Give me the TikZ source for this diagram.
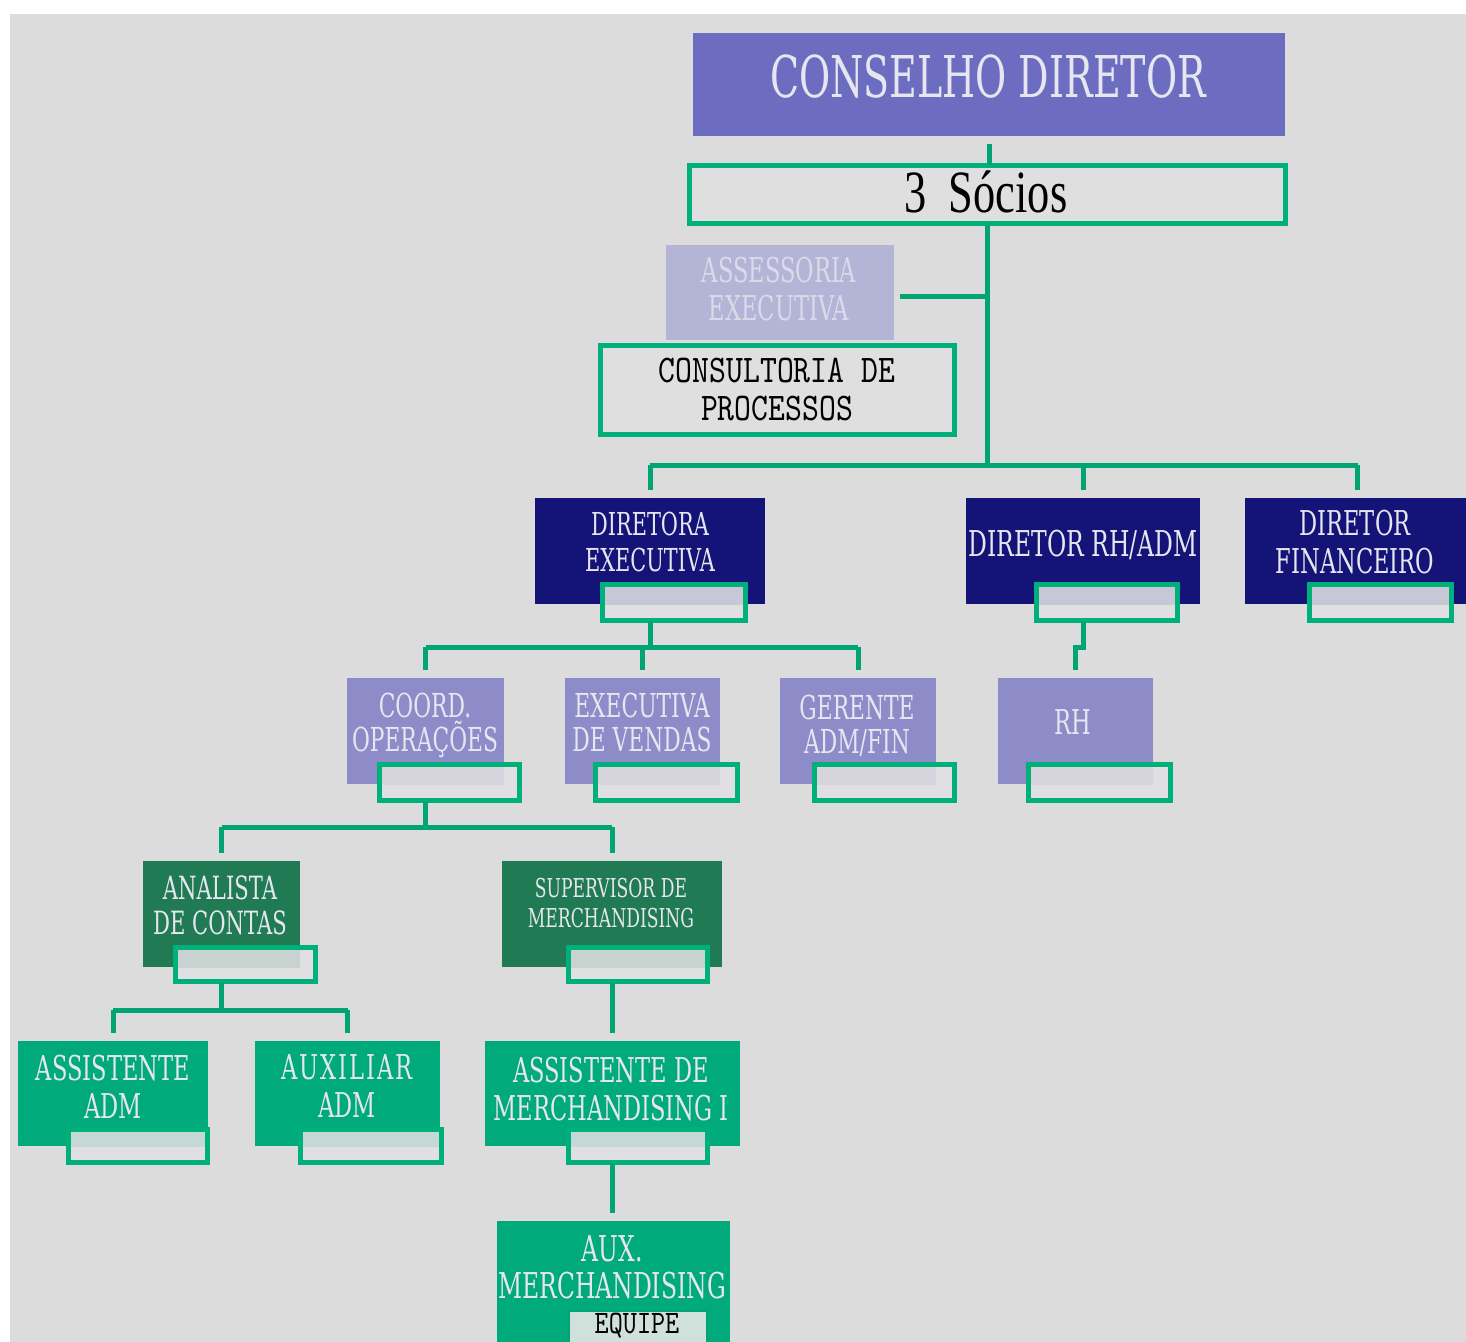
\documentclass[tikz,border=0pt]{standalone}
\usepackage{fontspec}
\usetikzlibrary{fit,calc}
\newfontfamily\lbl[FakeStretch=0.66]{DejaVu Serif}
\newfontfamily\socfont[FakeStretch=0.74]{Liberation Serif}
\newfontfamily\monofont{lmmono10-regular}[Extension=.otf, FakeStretch=0.82]
\definecolor{bg}{HTML}{DCDCDC}
\definecolor{lineg}{HTML}{00A573}
\definecolor{subline}{HTML}{00B07A}
\definecolor{subfill}{HTML}{E0E0E2}
\definecolor{cons}{HTML}{6C6CC0}
\definecolor{assess}{HTML}{B4B4D6}
\definecolor{navy}{HTML}{141478}
\definecolor{purp}{HTML}{8E8CC8}
\definecolor{dgreen}{HTML}{207A54}
\definecolor{lgreen}{HTML}{00AA7A}
\definecolor{lighttxt}{HTML}{E6E6F0}
\definecolor{assesstxt}{HTML}{DADAEA}
\definecolor{equfill}{HTML}{D0E0DA}
\tikzset{
  box/.style={inner sep=0pt, outer sep=0pt},
  conn/.style={draw=lineg, line width=2.5pt},
  frame/.style={draw=subline, line width=2.5pt},
  lab/.style={inner sep=0pt, outer sep=0pt, anchor=north, align=center, text=lighttxt},
}
\newcommand\mybox[6]{\node[box, fill=#6, fit={(#2,#3) (#4,#5)}] (#1) {};}
\newcommand\myframe[6]{\node[box, fill=#6, frame, fit={({#2+2.5},{#3+2.5}) ({#4-2.5},{#5-2.5})}] (#1) {};}
\newcommand\mysub[7]{%
  \node[box, fill=subfill, fit={({#3+2.5},{#4+2.5}) ({#5-2.5},{#6-2.5})}] (#1) {};
  \begin{scope}
    \clip (#2.south west) rectangle (#2.north east);
    \fill[#7, opacity=.12] (#1.south west) rectangle (#1.north east);
  \end{scope}
  \draw[frame] (#1.south west) rectangle (#1.north east);}
\newcommand\ks{\kern1pt}
\begin{document}
\begin{tikzpicture}[x=0.5pt, y=-0.5pt]
\useasboundingbox (0,0) rectangle (1466,1342);
\clip (0,0) rectangle (1466,1342);
\fill[white] (0,0) rectangle (1466,1342);
\fill[bg] (10,14) rectangle (1466,1342);

% top level
\mybox{conselho}{693}{33}{1285}{136}{cons}
\node[lab, font=\lbl\fontsize{28.8}{34}\selectfont] (tcons) at (988,55) {CONSELHO DIRETOR};
\myframe{socios}{687}{163}{1288}{226}{bg!90!white}
\node[inner sep=0pt, anchor=base, font=\socfont\fontsize{30}{34}\selectfont] (tsoc) at (986,213) {3\ \ Sócios};
\mybox{assess}{666}{245}{894}{340}{assess}
\node[lab, text=assesstxt, font=\lbl\fontsize{17.1}{19}\selectfont] (tass) at (779,257) {ASSESSORIA\\EXECUTIVA};
\myframe{consult}{598}{343}{957}{437}{bg!90!white}
\node[lab, text=black, font=\monofont\fontsize{19.6}{19}\selectfont] (tcon) at (777,358) {CONSULTORIA DE\\PROCESSOS};

% directors
\mybox{dexec}{535}{498}{765}{604}{navy}
\node[lab, font=\lbl\fontsize{15.8}{18}\selectfont] (tdexec) at (650,512) {DIRETORA\\EXECUTIVA};
\mysub{dexecS}{dexec}{600}{582}{748}{623}{navy}
\mybox{drh}{966}{498}{1200}{604}{navy}
\node[lab, font=\lbl\fontsize{17.8}{19}\selectfont] (tdrh) at (1083,530) {DIRETOR RH/ADM};
\mysub{drhS}{drh}{1034}{582}{1180}{623}{navy}
\mybox{dfin}{1245}{498}{1470}{604}{navy}
\node[lab, font=\lbl\fontsize{17.1}{19}\selectfont] (tdfin) at (1355,510) {DIRETOR\\FINANCEIRO};
\mysub{dfinS}{dfin}{1307}{582}{1454}{623}{navy}

% level 3
\mybox{coord}{347}{678}{504}{784}{purp}
\node[lab, font=\lbl\fontsize{16.5}{17}\selectfont] (tcoord) at (425,693) {COORD.\\OPERAÇÕES};
\mysub{coordS}{coord}{377}{762}{522}{803}{purp}
\mybox{execv}{565}{678}{720}{784}{purp}
\node[lab, font=\lbl\fontsize{16.5}{17}\selectfont] (texecv) at (642,693) {EXECUTIVA\\DE VENDAS};
\mysub{execvS}{execv}{593}{762}{740}{803}{purp}
\mybox{ger}{780}{678}{936}{784}{purp}
\node[lab, font=\lbl\fontsize{16.5}{17}\selectfont] (tger) at (857,695) {GERENTE\\ADM/FIN};
\mysub{gerS}{ger}{812}{762}{957}{803}{purp}
\mybox{rh}{998}{678}{1153}{784}{purp}
\node[lab, font=\lbl\fontsize{17.1}{19}\selectfont] (trh) at (1073,710) {RH};
\mysub{rhS}{rh}{1026}{762}{1173}{803}{purp}

% level 4
\mybox{anal}{143}{861}{300}{967}{dgreen}
\node[lab, font=\lbl\fontsize{16}{17.5}\selectfont] (tanal) at (220,876) {ANALISTA\\DE CONTAS};
\mysub{analS}{anal}{173}{945}{318}{984}{dgreen}
\mybox{super}{502}{861}{722}{967}{dgreen}
\node[lab, font=\lbl\fontsize{13}{15}\selectfont] (tsuper) at (611,878) {SUPERVISOR DE\\MERCHANDISING};
\mysub{supS}{super}{566}{945}{710}{984}{dgreen}

% level 5
\mybox{asst}{18}{1041}{208}{1146}{lgreen}
\node[lab, font=\lbl\fontsize{17.1}{19}\selectfont] (tasst) at (113,1055) {ASSISTENTE\\ADM};
\mysub{asstS}{asst}{66}{1127}{210}{1165}{lgreen}
\mybox{aux}{255}{1041}{440}{1146}{lgreen}
\node[lab, font=\lbl\fontsize{17.1}{19}\selectfont] (taux) at (347,1055) {A\ks U\ks X\ks I\ks L\ks I\ks A\ks R\\ADM};
\mysub{auxS}{aux}{298}{1127}{444}{1165}{lgreen}
\mybox{amerch}{485}{1041}{740}{1146}{lgreen}
\node[lab, font=\lbl\fontsize{17.1}{19}\selectfont] (tamerch) at (611,1057) {ASSISTENTE DE\\MERCHANDISING I};
\mysub{amerchS}{amerch}{566}{1127}{710}{1165}{lgreen}
\mybox{auxm}{497}{1221}{730}{1360}{lgreen}
\node[lab, font=\lbl\fontsize{17.8}{18.5}\selectfont] (tauxm) at (612,1236) {AUX.\\MERCHANDISING};
\node[box, fill=equfill, draw=lineg, line width=1pt, fit={(569,1311) (707,1360)}] (equipe) {};
\node[lab, text=black, font=\monofont\fontsize{16.4}{17}\selectfont] (tequ) at (637,1313) {EQUIPE};

% connectors
\coordinate (b1) at (988,465);
\coordinate (ajoin) at (988,297);
\coordinate (b2) at (650,647);
\coordinate (b3) at (427,827);
\coordinate (b4) at (221,1010);
\draw[conn] ([yshift=-4pt]conselho.south) -- (conselho.south |- socios.north);
\draw[conn] (socios.south) -- (socios.south |- b1);
\draw[conn] ($(assess.east |- ajoin)+(3pt,0)$) -- (ajoin);
\draw[conn] (dexec.north |- b1) -- (dfin.north |- b1);
\foreach \n in {dexec,drh,dfin} \draw[conn, shorten >=4pt] (\n.north |- b1) -- (\n.north);
\draw[conn] (dexec.south |- dexecS.south) -- (dexec.south |- b2);
\draw[conn] (coord.north |- b2) -- (ger.north |- b2);
\foreach \n in {coord,execv,ger} \draw[conn, shorten >=4pt] (\n.north |- b2) -- (\n.north);
\draw[conn, shorten >=4pt] (drh.south |- drhS.south) -- ++(0,-13.5pt) -| (rh.north);
\draw[conn] (coord.south |- coordS.south) -- (coord.south |- b3);
\draw[conn] (anal.north |- b3) -- (super.north |- b3);
\foreach \n in {anal,super} \draw[conn, shorten >=4pt] (\n.north |- b3) -- (\n.north);
\draw[conn] (anal.south |- analS.south) -- (anal.south |- b4);
\draw[conn] (asst.north |- b4) -- (aux.north |- b4);
\foreach \n in {asst,aux} \draw[conn, shorten >=4pt] (\n.north |- b4) -- (\n.north);
\draw[conn, shorten >=4pt] (super.south |- supS.south) -- (super.south |- amerch.north);
\draw[conn, shorten >=4pt] (amerch.south |- amerchS.south) -- (amerch.south |- auxm.north);
\end{tikzpicture}
\end{document}
